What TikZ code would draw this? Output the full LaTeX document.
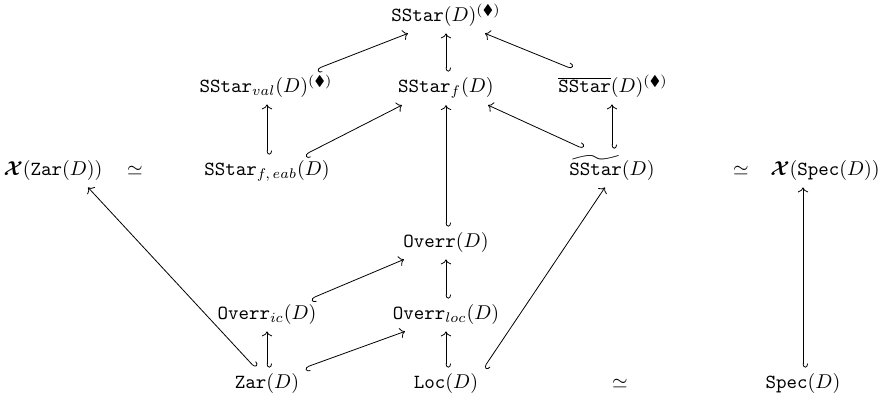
\documentclass[tikz,border=0pt]{standalone}
\usepackage{amsmath,amssymb}
\usetikzlibrary{arrows.meta,calc}
\tikzset{
  obj/.style={anchor=base, inner xsep=2pt, inner ysep=3pt},
  inc/.style={{Hooks[left,length=2pt,width=5pt]}-{Computer Modern Rightarrow}, line width=0.4pt},
}
\newcommand{\tsf}[1]{\mathtt{#1}}
\newcommand{\dia}{^{(\blacklozenge)}}
\begin{document}
\begin{tikzpicture}[x=0.5pt,y=-0.5pt]
\useasboundingbox (0,0) rectangle (880,400);
% row 1
\node[obj] (sstar) at (446,22) {$\tsf{SStar}(D)\dia$};
% row 2
\node[obj] (sval) at (266,93) {$\tsf{SStar}_{val}(D)\dia$};
\node[obj] (sf) at (446,93) {$\tsf{SStar}_{f}(D)$};
\node[obj] (sbar) at (613,93) {$\overline{\tsf{SStar}}(D)\dia$};
% row 3
\node[obj] (xzar) at (53,176) {$\boldsymbol{\mathcal{X}}(\tsf{Zar}(D))$};
\node[obj] (sima) at (135,176) {$\simeq$};
\node[obj] (sfeab) at (267,176) {$\tsf{SStar}_{f,\,eab}(D)$};
\node[obj] (stil) at (612,176) {$\widetilde{\tsf{SStar}}(D)$};
\node[obj] (simb) at (741,176) {$\simeq$};
\node[obj] (xspec) at (825,176) {$\boldsymbol{\mathcal{X}}(\tsf{Spec}(D))$};
% row 4
\node[obj] (ovr) at (446,248) {$\tsf{Overr}(D)$};
% row 5
\node[obj] (ovic) at (267,320) {$\tsf{Overr}_{ic}(D)$};
\node[obj] (ovloc) at (446,320) {$\tsf{Overr}_{loc}(D)$};
% row 6
\node[obj] (zar) at (267,389) {$\tsf{Zar}(D)$};
\node[obj] (loc) at (446,389) {$\tsf{Loc}(D)$};
\node[obj] (simc) at (620,389) {$\simeq$};
\node[obj] (spec) at (803,389) {$\tsf{Spec}(D)$};
% arrows
\draw[inc] ($(sval.north)+(51,0)$) -- ($(sstar.south)+(-38,0)$);
\draw[inc] (sf.north) -- (sf.north |- sstar.south);
\draw[inc] ($(sbar.north)+(-41,0)$) -- ($(sstar.south)+(39,0)$);
\draw[inc] (sfeab.north) -- (sfeab.north |- sval.south);
\draw[inc] ($(sfeab.north)+(38,0)$) -- ($(sf.south)+(-44,0)$);
\draw[inc] (ovr.north) -- (ovr.north |- sf.south);
\draw[inc] ($(stil.north)+(-29,0)$) -- ($(sf.south)+(42,0)$);
\draw[inc] (stil.north) -- (stil.north |- sbar.south);
\draw[inc] ($(zar.north)+(-12,0)$) -- ($(xzar.south)+(35,0)$);
\draw[inc] ($(loc.north)+(38,0)$) -- ($(stil.south)+(-7,0)$);
\draw[inc] (spec.north) -- (spec.north |- xspec.south);
\draw[inc] ($(ovic.north)+(44,0)$) -- ($(ovr.south)+(-42,0)$);
\draw[inc] (ovloc.north) -- (ovloc.north |- ovr.south);
\draw[inc] (zar.north) -- (zar.north |- ovic.south);
\draw[inc] ($(zar.north)+(38,0)$) -- ($(ovloc.south)+(-41,0)$);
\draw[inc] (loc.north) -- (loc.north |- ovloc.south);
\end{tikzpicture}
\end{document}
